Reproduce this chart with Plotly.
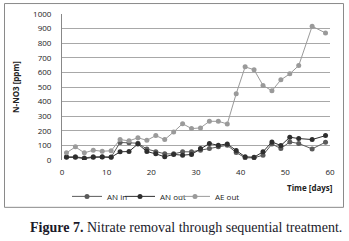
import plotly.graph_objects as go

days = [1, 3, 5, 7, 9, 11, 13, 15, 17, 19, 21, 23, 25, 27, 29, 31, 33, 35, 37,
        39, 41, 43, 45, 47, 49, 51, 53, 56, 59]
an_in = [22, 22, 14, 22, 22, 20, 120, 118, 115, 75, 56, 42, 42, 56, 56, 67, 78, 90, 101,
         51, 15, 15, 33, 110, 78, 124, 113, 76, 122]
an_out = [18, 18, 10, 18, 20, 18, 56, 58, 110, 58, 42, 22, 38, 33, 38, 78, 113, 101, 110,
          65, 22, 19, 56, 124, 99, 156, 147, 140, 167]
ae_out = [49, 90, 49, 67, 60, 63, 140, 131, 152, 135, 167, 140, 192, 249, 215, 220, 265, 265, 247,
          454, 638, 618, 511, 474, 549, 590, 647, 916, 870]

x_ticks = [0, 10, 20, 30, 40, 50, 60]
y_ticks = [0, 100, 200, 300, 400, 500, 600, 700, 800, 900, 1000]

font = "Open Sans, Liberation Sans, sans-serif"

fig = go.Figure()
series = [("AN in", an_in, "#5a5a5a", "legend"), ("AN out", an_out, "#2e2e2e", "legend2"),
          ("AE out", ae_out, "#9a9a9a", "legend3")]
for name, vals, col, lg in series:
    fig.add_trace(go.Scatter(x=days, y=vals, name=name, mode="lines+markers",
                             line=dict(color=col, width=1),
                             marker=dict(color=col, size=5), legend=lg))

def px_x(p):
    return (p - 62) / 268

def px_y(p):
    return (160.5 - p) / 146.5

leg_common = dict(orientation="h", xanchor="left", y=px_y(197), yanchor="middle",
                  font=dict(size=8, color="#222"), bgcolor="rgba(0,0,0,0)")

border = "#8a8a8a"
bx0, bx1, by0, by1 = px_x(4.5), px_x(343.5), px_y(208), px_y(3.5)

fig.update_layout(
    width=349, height=241,
    margin=dict(l=62, r=19, t=14, b=80.5, autoexpand=False),
    paper_bgcolor="white", plot_bgcolor="white",
    font=dict(family=font, size=8, color="#222"),
    showlegend=True,
    legend=dict(x=px_x(67), **leg_common),
    legend2=dict(x=px_x(120), **leg_common),
    legend3=dict(x=px_x(175), **leg_common),
    xaxis=dict(range=[0, 60], tickvals=x_ticks, showgrid=False, zeroline=False,
               showline=False, ticks="", ticklabelstandoff=6,
               tickfont=dict(size=8, color="#222")),
    yaxis=dict(range=[0, 1000], tickvals=y_ticks, showgrid=True, gridcolor="#a8a8a8",
               gridwidth=1, zeroline=False, showline=True, linecolor="#888", linewidth=1,
               ticks="", ticklabelstandoff=8, tickfont=dict(size=8, color="#222"),
               title=dict(text="<b>N-NO3 [ppm]</b>", font=dict(size=8, color="#222"), standoff=12)),
    shapes=[
        dict(type="line", xref="paper", yref="paper", x0=bx0, x1=bx1, y0=by1, y1=by1,
             line=dict(color=border, width=1)),
        dict(type="line", xref="paper", yref="paper", x0=bx0, x1=bx1, y0=by0, y1=by0,
             line=dict(color=border, width=1)),
        dict(type="line", xref="paper", yref="paper", x0=bx0, x1=bx0, y0=by0, y1=by1,
             line=dict(color=border, width=1)),
        dict(type="line", xref="paper", yref="paper", x0=bx1, x1=bx1, y0=by0, y1=by1,
             line=dict(color=border, width=1)),
    ],
    annotations=[
        dict(text="<b>Time [days]</b>", xref="paper", yref="paper", x=1.019, y=-0.188,
             xanchor="right", yanchor="middle", showarrow=False,
             font=dict(size=8, color="#222")),
        dict(text="<b>Figure 7.</b> Nitrate removal through sequential treatment.",
             xref="paper", yref="paper", x=0.463, y=-0.461, xanchor="center", yanchor="middle",
             showarrow=False, font=dict(family="Liberation Serif, Times New Roman, serif",
                                        size=14, color="#1a1a2a")),
    ],
)

fig.write_html("out.html", config={"displayModeBar": False},
               post_script="document.body.style.margin='0';")
